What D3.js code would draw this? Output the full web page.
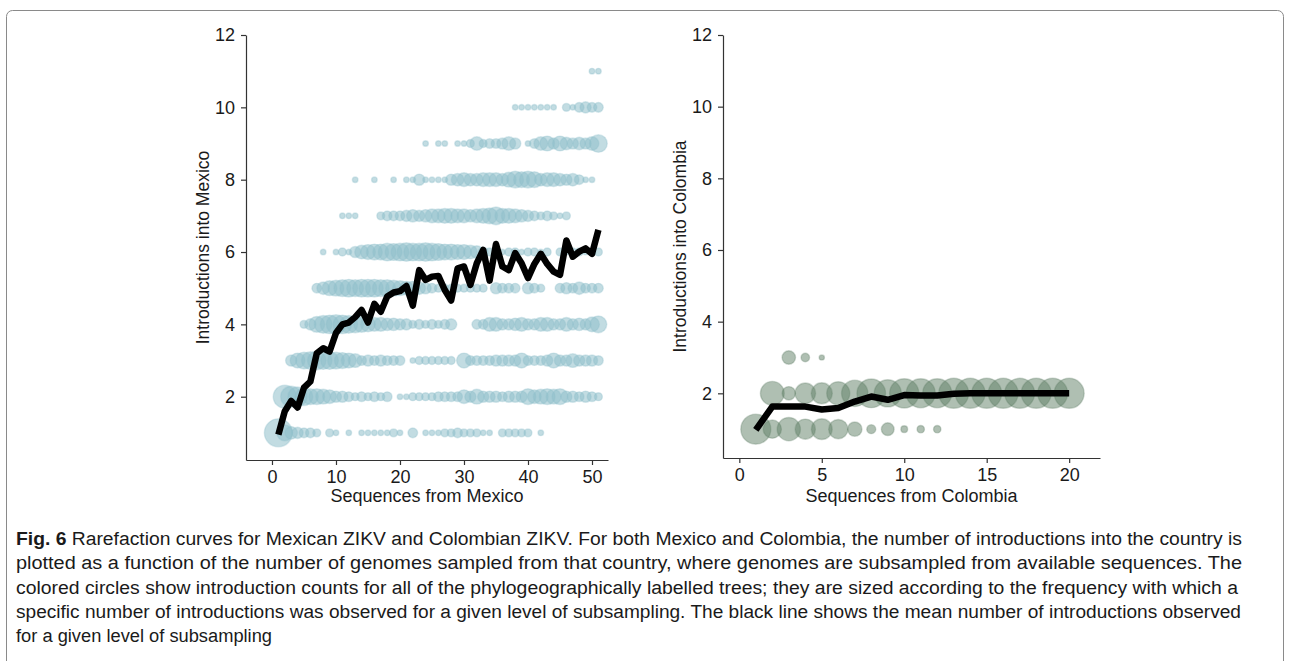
<!DOCTYPE html>
<html>
<head>
<meta charset="utf-8">
<script src="https://cdn.jsdelivr.net/npm/d3@7"></script>
<style>
body { margin: 0; background: #fff; }
svg text { font-family: "Liberation Sans", Arial, sans-serif; fill: #1a1a1a; }
.axis path, .axis line { stroke: #333; stroke-width: 1.2; }
</style>
</head>
<body>
<svg id="fig" width="1290" height="661"></svg>
<script>
// Mexico: number of trees (out of ~25) with a given number of introductions,
// for each subsample size 1..51. One array per introduction count.
var mexSizes = d3.range(1, 52);
var mexY1  = [25,8,5,4,3,3,2,0,2,1, 0,1,0,1,1,1,1,1,2,1, 0,3,0,1,1,1,2,2,3,2, 2,2,1,1,0,2,2,2,2,2, 0,1,0,0,0,0,0,0,0,0, 0];
var mexY2  = [0,17,14,12,10,8,8,7,6,4, 4,3,2,3,2,3,2,3,0,1, 1,2,2,2,2,3,3,3,3,6, 4,7,4,4,4,3,4,4,4,8, 6,7,8,7,8,4,4,3,4,3, 2];
var mexY3  = [0,0,4,7,9,10,11,10,10,9, 8,7,6,3,4,3,4,3,3,3, 0,1,2,2,2,2,2,2,0,7, 3,3,3,3,4,4,4,4,7,3, 3,3,4,7,4,4,6,4,4,4, 3];
var mexY4  = [0,0,0,0,2,4,8,10,11,12, 11,10,9,8,7,6,6,5,5,4, 4,2,3,2,3,2,3,4,0,0, 0,3,3,6,6,4,4,5,6,4, 4,6,6,4,4,6,4,5,4,7, 9];
var mexY5  = [0,0,0,0,0,0,3,5,7,8, 9,10,9,10,10,10,9,9,8,7, 6,6,5,4,3,2,2,2,2,2, 2,2,2,0,4,3,3,3,0,4, 3,2,0,0,3,4,3,5,3,3, 3];
var mexY6  = [0,0,0,0,0,0,0,1,0,1, 2,1,4,6,7,8,8,10,9,10, 11,10,10,11,10,9,8,8,7,7, 6,5,3,2,2,1,2,2,1,2, 2,1,2,0,2,1,2,2,1,2, 2];
var mexY7  = [0,0,0,0,0,0,0,0,0,0, 1,1,1,0,0,0,2,3,3,3, 4,5,4,5,6,6,7,7,6,6, 5,6,7,8,10,7,7,6,5,4, 3,2,3,2,1,2,0,0,0,0, 0];
var mexY8  = [0,0,0,0,0,0,0,0,0,0, 0,0,1,0,0,1,0,0,1,0, 1,1,4,1,1,1,1,4,5,6, 5,5,6,6,6,5,7,9,8,9, 8,5,6,6,5,4,5,3,1,1, 0];
var mexY9  = [0,0,0,0,0,0,0,0,0,0, 0,0,0,0,0,0,0,0,0,0, 0,0,0,1,0,1,1,0,1,1, 2,6,2,3,3,4,6,4,0,1, 3,6,7,4,7,5,4,5,4,6, 10];
var mexY10 = [0,0,0,0,0,0,0,0,0,0, 0,0,0,0,0,0,0,0,0,0, 0,0,0,0,0,0,0,0,0,0, 0,0,0,0,0,0,0,1,1,1, 1,1,1,1,0,2,1,3,4,3, 3];
var mexY11 = [0,0,0,0,0,0,0,0,0,0, 0,0,0,0,0,0,0,0,0,0, 0,0,0,0,0,0,0,0,0,0, 0,0,0,0,0,0,0,0,0,0, 0,0,0,0,0,0,0,0,0,1, 1];
var mexMean = [0.95,1.6,1.88,1.7,2.25,2.42,3.2,3.34,3.25,3.76,
  4.0,4.05,4.2,4.4,4.05,4.57,4.35,4.77,4.88,4.92,
  5.06,4.52,5.5,5.23,5.32,5.34,4.95,4.66,5.55,5.6,
  5.09,5.69,6.06,5.21,6.22,5.6,5.5,5.97,5.69,5.28,
  5.67,5.95,5.67,5.46,5.37,6.32,5.87,6.01,6.1,5.95,6.61];

// Colombia: percent of trees per introduction count, subsample sizes 1..20
var colSizes = d3.range(1, 21);
var colY1 = [100,37,60,45,48,41,23,9,18,5, 6,6,0,0,0,0,0,0,0,0];
var colY2 = [0,63,20,47,49,59,77,91,82,95, 94,94,100,100,100,100,100,100,100,100];
var colY3 = [0,0,20,8,3,0,0,0,0,0, 0,0,0,0,0,0,0,0,0,0];
var colMean = [0.98,1.63,1.63,1.63,1.55,1.59,1.77,1.91,1.82,1.95,
  1.94,1.94,1.99,2,2,2,2,2,2,2];

var yTicks = [2, 4, 6, 8, 10, 12];
var mexXTicks = [0, 10, 20, 30, 40, 50];
var colXTicks = [0, 5, 10, 15, 20];

var captionLines = [
  "Rarefaction curves for Mexican ZIKV and Colombian ZIKV. For both Mexico and Colombia, the number of introductions into the country is",
  "plotted as a function of the number of genomes sampled from that country, where genomes are subsampled from available sequences. The",
  "colored circles show introduction counts for all of the phylogeographically labelled trees; they are sized according to the frequency with which a",
  "specific number of introductions was observed for a given level of subsampling. The black line shows the mean number of introductions observed",
  "for a given level of subsampling"
];
var captionWidths = [1226, 1226, 1222, 1225, 256];

var svg = d3.select("#fig");

// frame around figure
svg.append("rect")
  .attr("x", 6.5).attr("y", 10.5)
  .attr("width", 1277).attr("height", 720)
  .attr("rx", 6)
  .attr("fill", "none")
  .attr("stroke", "#8a8a8a")
  .attr("stroke-width", 1);

function toPoints(rows, sizes) {
  var pts = [];
  rows.forEach(function(row, i) {
    row.forEach(function(c, j) {
      if (c > 0) pts.push({ x: sizes[j], y: i + 1, c: c });
    });
  });
  return pts;
}

function drawPanel(opts) {
  var x = d3.scaleLinear().domain(opts.xDomain).range(opts.xRange);
  var y = d3.scaleLinear().domain(opts.yDomain).range(opts.yRange);
  var r = d3.scaleSqrt().domain([0, opts.maxCount]).range([0, opts.maxR]);
  var g = svg.append("g");

  // bubbles
  g.append("g")
    .selectAll("circle")
    .data(toPoints(opts.rows, opts.sizes))
    .join("circle")
    .attr("cx", d => x(d.x))
    .attr("cy", d => y(d.y))
    .attr("r", d => r(d.c))
    .attr("fill", opts.color)
    .attr("fill-opacity", opts.alpha)
    .attr("stroke", opts.color)
    .attr("stroke-opacity", opts.alpha * 0.6)
    .attr("stroke-width", 1.4);

  // mean line
  var line = d3.line()
    .x((d, i) => x(opts.sizes[i]))
    .y(d => y(d));
  g.append("path")
    .datum(opts.mean)
    .attr("d", line)
    .attr("fill", "none")
    .attr("stroke", "#000")
    .attr("stroke-width", 6.5)
    .attr("stroke-linejoin", "round");

  // axes
  var yAxis = d3.axisLeft(y).tickValues(yTicks).tickFormat(d3.format("d"))
    .tickSize(5).tickSizeOuter(0).tickPadding(6);
  var xAxis = d3.axisBottom(x).tickValues(opts.xTicks).tickFormat(d3.format("d"))
    .tickSize(5).tickSizeOuter(0).tickPadding(5);

  g.append("g").attr("class", "axis")
    .attr("transform", `translate(${opts.xRange[0]},0)`)
    .call(yAxis)
    .call(a => a.selectAll("text").attr("font-size", 18).attr("fill", "#1a1a1a"));
  g.append("g").attr("class", "axis")
    .attr("transform", `translate(0,${opts.yRange[0]})`)
    .call(xAxis)
    .call(a => a.selectAll("text").attr("font-size", 18).attr("fill", "#1a1a1a"));

  // axis titles
  g.append("text")
    .attr("transform", `translate(${opts.yTitleX},${(opts.yRange[0] + opts.yRange[1]) / 2}) rotate(-90)`)
    .attr("text-anchor", "middle")
    .attr("font-size", 17.5)
    .text(opts.yTitle);
  g.append("text")
    .attr("x", (opts.xRange[0] + opts.xRange[1]) / 2)
    .attr("y", 502)
    .attr("text-anchor", "middle")
    .attr("font-size", 18)
    .text(opts.xTitle);
}

drawPanel({
  rows: [mexY1, mexY2, mexY3, mexY4, mexY5, mexY6, mexY7, mexY8, mexY9, mexY10, mexY11],
  sizes: mexSizes,
  mean: mexMean,
  xDomain: [-4.06, 52.5], xRange: [246, 608],
  yDomain: [0.25, 12], yRange: [460, 35],
  maxCount: 25, maxR: 14,
  color: "#8fbfca", alpha: 0.55,
  xTicks: mexXTicks,
  yTitle: "Introductions into Mexico", yTitleX: 209,
  xTitle: "Sequences from Mexico"
});

drawPanel({
  rows: [colY1, colY2, colY3],
  sizes: colSizes,
  mean: colMean,
  xDomain: [-0.99, 21.87], xRange: [723, 1100],
  yDomain: [0.195, 12], yRange: [458, 35],
  maxCount: 100, maxR: 15,
  color: "#5f7f66", alpha: 0.5,
  xTicks: colXTicks,
  yTitle: "Introductions into Colombia", yTitleX: 686,
  xTitle: "Sequences from Colombia"
});

// caption
var cap = svg.append("g").attr("font-size", 18);
captionLines.forEach(function(txt, i) {
  var t = cap.append("text")
    .attr("x", 16)
    .attr("y", 545 + i * 24.3)
    .attr("textLength", captionWidths[i])
    .attr("lengthAdjust", "spacingAndGlyphs")
    .attr("fill", "#231f20");
  if (i === 0) {
    t.append("tspan").attr("font-weight", "bold").text("Fig. 6");
    t.append("tspan").text(" " + txt);
  } else {
    t.text(txt);
  }
});
</script>
</body>
</html>
